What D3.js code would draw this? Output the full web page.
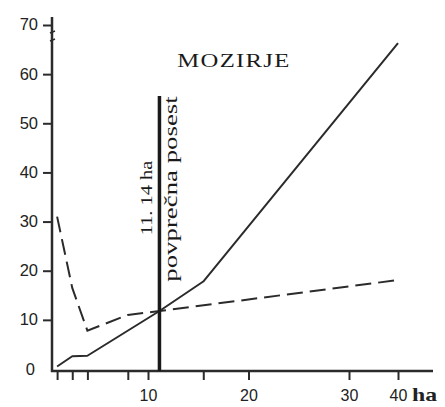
<!DOCTYPE html>
<html>
<head>
<meta charset="utf-8">
<script src="https://cdn.jsdelivr.net/npm/d3@7"></script>
<style>
  body { margin: 0; background: #fff; }
  svg { display: block; }
</style>
</head>
<body>
<div id="chart"></div>
<script>
// farm size (ha) on x, value on y
const solidX = [1, 2.5, 4, 11.14, 15.5, 40];
const solidY = [0.5, 2.6, 2.7, 11.8, 17.8, 66.3];
const dashedX = [1, 2.5, 4, 8, 11.14, 40];
const dashedY = [31, 16.5, 7.8, 11, 11.8, 18.1];

const xTicks = [1, 2.5, 4, 8, 10, 15.5, 20, 30, 40];
const xLabels = [10, 20, 30, 40];
const yTicks = [0, 10, 20, 30, 40, 50, 60, 70];

const averageHolding = 11.14;
const titleText = "MOZIRJE";

const W = 445, H = 407;
const INK = "#2b2b2b";
const SERIF = "'Liberation Serif', 'Times New Roman', serif";
const SANS = "'Liberation Sans', Arial, sans-serif";

const svg = d3.select("#chart").append("svg")
    .attr("width", W)
    .attr("height", H);

// hand drawn axis, not quite uniform
const x = d3.scaleLinear()
    .domain([0, 10, 30, 40])
    .range([47, 148, 349, 398]);

const y = d3.scaleLinear()
    .domain([0, 70])
    .range([369, 25]);

const axisX0 = 52, axisY0 = 371;

// y axis
const yAxis = d3.axisLeft(y)
    .tickValues(yTicks.filter(function (d) { return d > 0; }))
    .tickSize(9)
    .tickPadding(5)
    .tickFormat(d3.format("d"));

const gy = svg.append("g")
    .attr("transform", "translate(" + axisX0 + ",0)")
    .call(yAxis);
gy.select(".domain").remove();
gy.selectAll(".tick line").attr("stroke", INK).attr("stroke-width", 2);
gy.selectAll(".tick text")
    .attr("fill", "#222")
    .attr("font-family", SANS)
    .attr("font-size", 16.5)
    .attr("dy", "0.3em");

svg.append("text")
    .attr("x", 35).attr("y", y(0) + 1)
    .attr("text-anchor", "end")
    .attr("fill", "#222")
    .attr("font-family", SANS)
    .attr("font-size", 16.5)
    .attr("dy", "0.3em")
    .text("0");

svg.append("line")
    .attr("x1", axisX0).attr("x2", axisX0)
    .attr("y1", 17).attr("y2", axisY0 + 1)
    .attr("stroke", INK).attr("stroke-width", 2.5);

// little break marks near the top
svg.append("path")
    .attr("d", "M" + (axisX0 - 2) + ",33 l5,-2 M" + (axisX0 - 2) + ",41 l5,-2")
    .attr("stroke", INK).attr("stroke-width", 1.5).attr("fill", "none");

// x axis
const xAxis = d3.axisBottom(x)
    .tickValues(xTicks)
    .tickSize(9)
    .tickPadding(10)
    .tickFormat(function (d) { return xLabels.indexOf(d) >= 0 ? d : ""; });

const gx = svg.append("g")
    .attr("transform", "translate(0," + axisY0 + ")")
    .call(xAxis);
gx.select(".domain").remove();
gx.selectAll(".tick line").attr("stroke", INK).attr("stroke-width", 2);
gx.selectAll(".tick text")
    .attr("fill", "#222")
    .attr("font-family", SANS)
    .attr("font-size", 16);

svg.append("line")
    .attr("x1", axisX0 - 1).attr("x2", 433)
    .attr("y1", axisY0).attr("y2", axisY0)
    .attr("stroke", INK).attr("stroke-width", 2.5);

svg.append("text")
    .attr("transform", "translate(" + (x(40) + 14) + ",401) scale(1.25,1)")
    .attr("fill", "#222")
    .attr("font-family", SERIF)
    .attr("font-weight", "bold")
    .attr("font-size", 19)
    .text("ha");

// series
const line = d3.line()
    .x(function (d) { return x(d[0]); })
    .y(function (d) { return y(d[1]); });

svg.append("path")
    .datum(d3.zip(solidX, solidY))
    .attr("d", line)
    .attr("fill", "none")
    .attr("stroke", INK)
    .attr("stroke-width", 2)
    .attr("stroke-linejoin", "round");

svg.append("path")
    .datum(d3.zip(dashedX, dashedY))
    .attr("d", line)
    .attr("fill", "none")
    .attr("stroke", INK)
    .attr("stroke-width", 2)
    .attr("stroke-dasharray", "16,7");

// average holding marker
const avgX = x(averageHolding);
svg.append("line")
    .attr("x1", avgX).attr("x2", avgX)
    .attr("y1", 96).attr("y2", axisY0)
    .attr("stroke", "#1a1a1a").attr("stroke-width", 3.5);

// the original lettering is a wide serif, so stretch along the reading direction
svg.append("text")
    .attr("transform", "translate(" + (avgX - 7) + ",198) rotate(-90) scale(1.2,1)")
    .attr("text-anchor", "middle")
    .attr("fill", "#1a1a1a")
    .attr("font-family", SERIF)
    .attr("font-size", 17)
    .text("11. 14 ha");

svg.append("text")
    .attr("transform", "translate(" + (avgX + 18) + ",189) rotate(-90) scale(1.45,1)")
    .attr("text-anchor", "middle")
    .attr("fill", "#1a1a1a")
    .attr("font-family", SERIF)
    .attr("font-size", 18.5)
    .text("povprečna posest");

svg.append("text")
    .attr("transform", "translate(234,67) scale(1.3,1)")
    .attr("text-anchor", "middle")
    .attr("fill", "#1a1a1a")
    .attr("font-family", SERIF)
    .attr("font-size", 19)
    .attr("letter-spacing", 1)
    .text(titleText);
</script>
</body>
</html>
